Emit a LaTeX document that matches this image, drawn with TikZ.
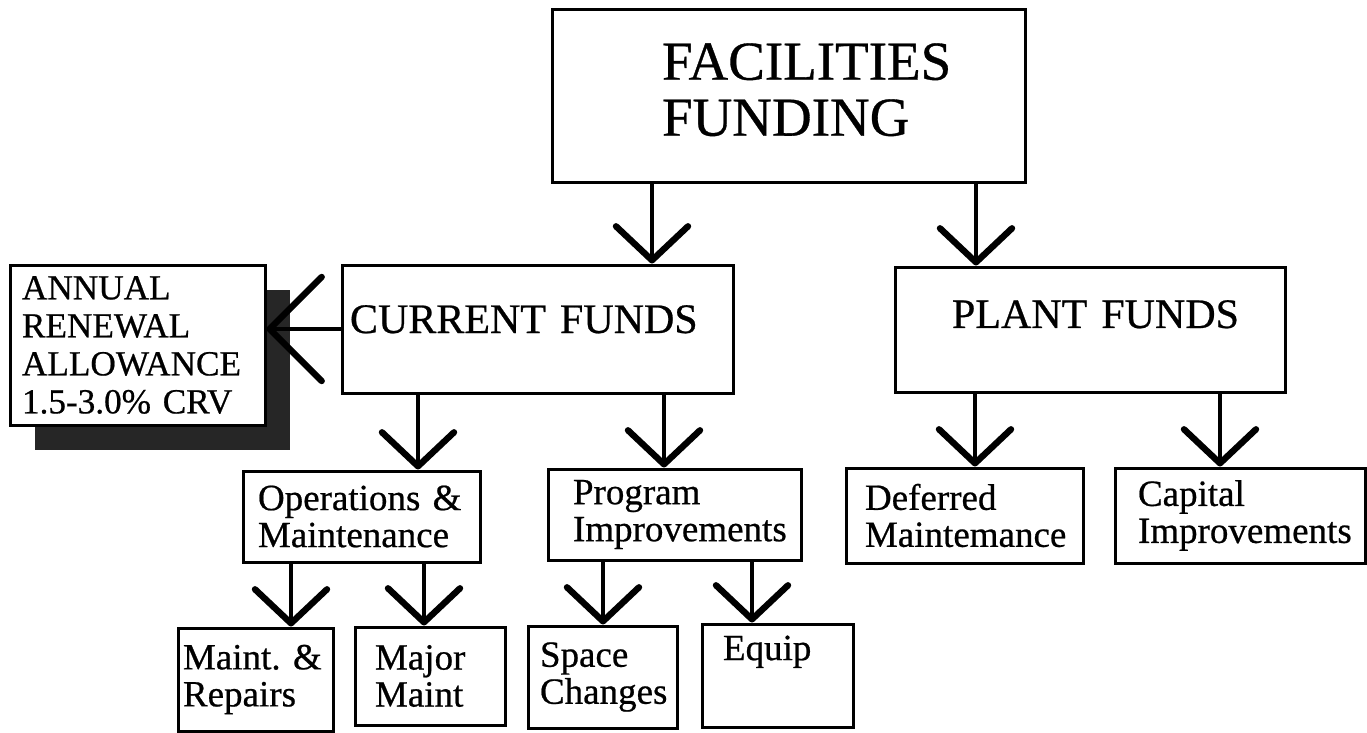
\documentclass[tikz,border=0pt]{standalone}
\usepackage{fontspec}
\setmainfont{Liberation Serif}[FakeBold=0.6, WordSpace=0.75]
\usetikzlibrary{arrows.meta,shadows}

\tikzset{
  fundbox/.style={draw, line width=1.5pt, align=left, inner sep=0pt},
  itemfont/.style={font=\fontsize{18.5}{18.5}\selectfont},
  feed/.style={line width=2pt, -{Straight Barb[length=17pt,width=36pt,line width=3.2pt,round]}},
  feedwide/.style={line width=2pt, -{Straight Barb[length=26pt,width=52pt,line width=3.2pt,round]}},
}

\begin{document}
\begin{tikzpicture}[x=0.5pt,y=0.5pt,yscale=-1]
    \useasboundingbox (0,0) rectangle (1367,733);

    % funding levels
    \node[fundbox, minimum width=236.5pt, minimum height=86.5pt, inner xsep=55pt, text width=126.5pt, text height=18.2pt, text depth=35pt, font=\fontsize{27.5}{28}\selectfont] (fac) at (788.5,96.5) {FACILITIES\\FUNDING};
    \node[fundbox, minimum width=195.5pt, minimum height=64pt, inner xsep=4pt, text width=187.5pt, text height=13.6pt, text depth=9.6pt, font=\fontsize{21}{22}\selectfont] (cur) at (537.5,329) {CURRENT FUNDS};
    \node[fundbox, minimum width=195pt, minimum height=62.5pt, inner xsep=28.5pt, text width=138pt, text height=13.6pt, text depth=15.1pt, font=\fontsize{21}{22}\selectfont] (plant) at (1090,329.5) {PLANT~FUNDS};
    \node[fundbox, fill=white, minimum width=127.5pt, minimum height=80pt, inner xsep=6pt, text width=115.5pt, drop shadow={shadow xshift=12.5pt, shadow yshift=-12.5pt, opacity=1, fill=black!85}, font=\fontsize{17.6}{19}\selectfont] (renew) at (137.5,345) {ANNUAL\\RENEWAL\\ALLOWANCE\\1.5-3.0\% CRV};

    % second row
    \node[fundbox, itemfont, minimum width=118.5pt, minimum height=45.5pt, inner xsep=7.5pt, text width=103.5pt] (ops) at (361.5,516.5) {Operations \&\\Maintenance};
    \node[fundbox, itemfont, minimum width=126.5pt, minimum height=45.5pt, inner xsep=12.5pt, text width=101.5pt] (prog) at (674.5,514.5) {Program\\Improvements};
    \node[fundbox, itemfont, minimum width=118.5pt, minimum height=47.5pt, inner xsep=9.5pt, text width=99.5pt] (defer) at (964.5,515.5) {Deferred\\Maintemance};
    \node[fundbox, itemfont, minimum width=125pt, minimum height=47.5pt, inner xsep=11.5pt, text width=102pt] (capital) at (1240,515.5) {Capital\\Improvements};

    % bottom row
    \node[fundbox, itemfont, minimum width=77.5pt, minimum height=51.5pt, inner xsep=2.5pt, text width=72.5pt] (repairs) at (255.5,679.5) {Maint.\ \&\\Repairs};
    \node[fundbox, itemfont, minimum width=75pt, minimum height=49pt, inner xsep=10pt, text width=55pt] (major) at (430,676) {Major\\Maint};
    \node[fundbox, itemfont, minimum width=74.5pt, minimum height=51pt, inner xsep=6pt, text width=62.5pt] (space) at (602.5,677) {Space\\Changes};
    \node[fundbox, itemfont, minimum width=75.5pt, minimum height=51.5pt, inner xsep=10.5pt, text width=54.5pt, text height=12.6pt, text depth=28pt] (equip) at (777.5,675.5) {Equip};

    % stem positions
    \path (652,0) coordinate (x1) (976,0) coordinate (x2) (418,0) coordinate (x3) (664,0) coordinate (x4)
          (291,0) coordinate (x5) (424,0) coordinate (x6) (603,0) coordinate (x7) (752,0) coordinate (x8)
          (975,0) coordinate (x9) (1220,0) coordinate (x10);

    \draw[feed] (fac.south -| x1) -- (cur.north -| x1);
    \draw[feed] (fac.south -| x2) -- (plant.north -| x2);
    \draw[feed] (cur.south -| x3) -- (ops.north -| x3);
    \draw[feed] (cur.south -| x4) -- (prog.north -| x4);
    \draw[feed] (ops.south -| x5) -- (repairs.north -| x5);
    \draw[feed] (ops.south -| x6) -- (major.north -| x6);
    \draw[feed] (prog.south -| x7) -- (space.north -| x7);
    \draw[feed] (prog.south -| x8) -- (equip.north -| x8);
    \draw[feed] (plant.south -| x9) -- (defer.north -| x9);
    \draw[feed] (plant.south -| x10) -- (capital.north -| x10);
    \draw[feedwide] (cur.west) -- (renew.east |- cur.west);
\end{tikzpicture}
\end{document}
